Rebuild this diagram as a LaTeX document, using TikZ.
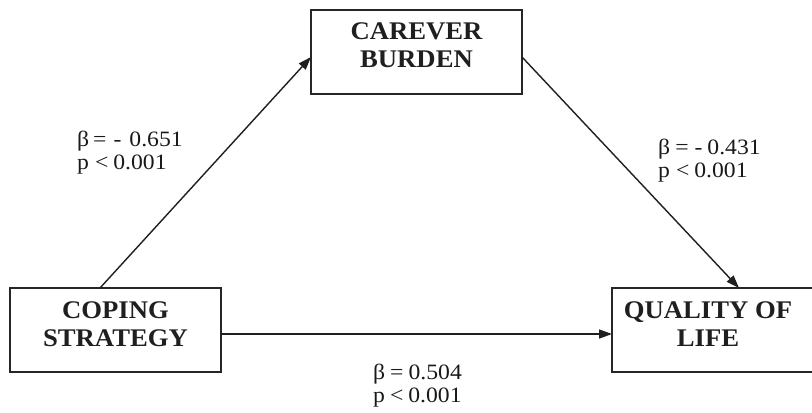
\documentclass[tikz,border=0pt]{standalone}
\usepackage{fontspec}
\setmainfont{Liberation Serif}
\newfontfamily\statfont[FakeStretch=1.08]{Liberation Serif}
\newfontfamily\boxfont[FakeStretch=1.05]{Liberation Serif}
\usetikzlibrary{arrows.meta}
\begin{document}
\begin{tikzpicture}[x=1bp,y=-1bp,
  box/.style={draw=black!85, line width=1.6bp, rectangle, inner sep=0pt},
  boxtext/.style={font=\boxfont\bfseries\fontsize{25.5}{28.5}\selectfont, align=center, text=black!88, inner sep=0pt},
  stat/.style={font=\statfont\fontsize{22}{22.5}\selectfont, align=left, anchor=north west, inner sep=0pt, text=black!90},
  conn/.style={line width=1.4bp, draw=black!88, -{Triangle[length=13bp,width=9bp]}}]
\useasboundingbox (0,0) rectangle (812,412);
% boxes
\node[box, minimum width=211bp, minimum height=84bp] (cb) at (416.5,52) {};
\node[boxtext] (cbt) at (416.5,45.5) {CAREVER\\BURDEN};
\node[box, minimum width=211bp, minimum height=84bp] (cs) at (115.5,330) {};
\node[boxtext] (cst) at (115.5,324) {COPING\\STRATEGY};
\node[box, minimum width=206bp, minimum height=84bp] (ql) at (715,330) {};
\node[boxtext] (qlt) at (708,324) {QUALITY OF\\LIFE};
% connector ends
\coordinate (a1) at (100,288);
\coordinate (a2) at (311,57);
\coordinate (b1) at (522,57);
\coordinate (b2) at (739,288);
\coordinate (c1) at (221,334);
\coordinate (c2) at (612,334);
\draw[conn] (a1) -- (a2);
\draw[conn] (b1) -- (b2);
\draw[conn] (c1) -- (c2);
% labels
\node[stat] (l1) at (77,131) {β\hspace{4bp}=\hspace{7bp}-\hspace{8bp}0.651\\p\hspace{6bp}<\hspace{5bp}0.001};
\node[stat] (l2) at (658,139) {β\hspace{5bp}=\hspace{6bp}-\hspace{5bp}0.431\\p\hspace{6bp}<\hspace{5bp}0.001};
\node[stat] (l3) at (373,364) {β\hspace{5bp}=\hspace{5bp}0.504\\p\hspace{5bp}<\hspace{5bp}0.001};
\end{tikzpicture}
\end{document}
